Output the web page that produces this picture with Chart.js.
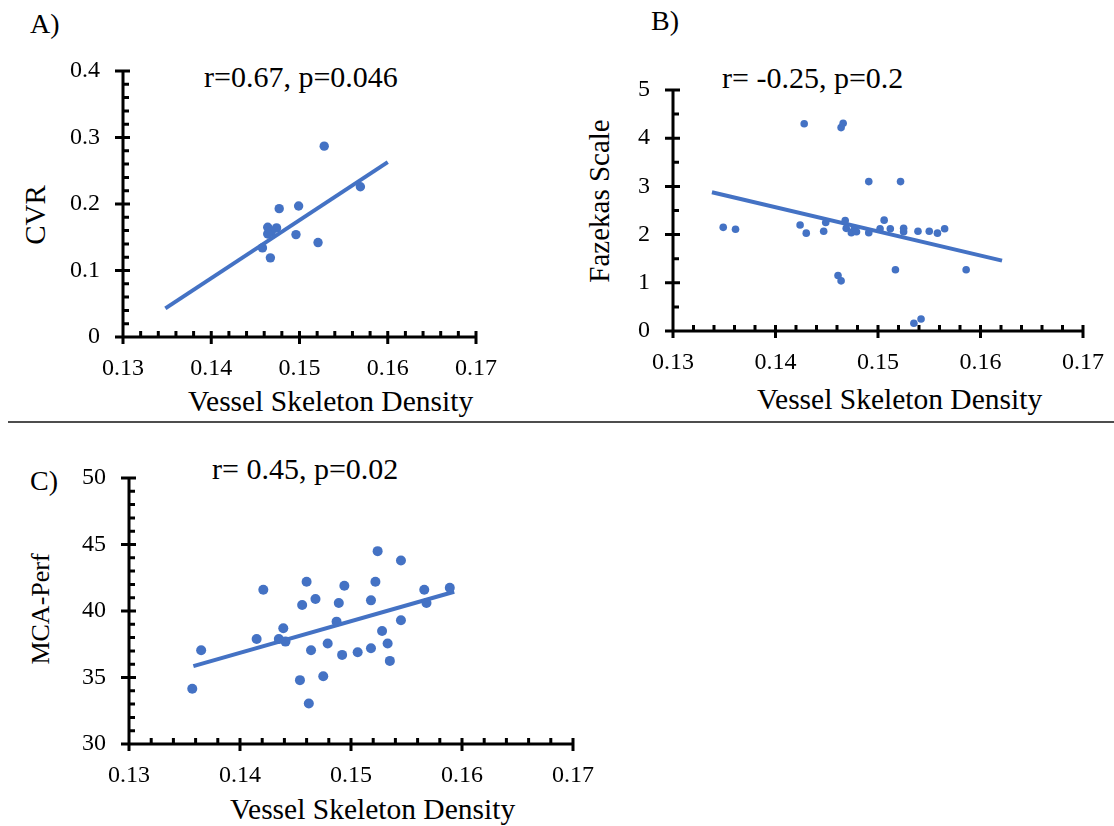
<!DOCTYPE html>
<html>
<head>
<meta charset="utf-8">
<script src="https://cdn.jsdelivr.net/npm/chart.js@4.4.1/dist/chart.umd.min.js"></script>
<style>
  body { margin: 0; background: #fff; width: 1114px; height: 826px; position: relative; overflow: hidden;
         font-family: 'Liberation Serif', 'Times New Roman', serif; color: #000; }
  canvas { position: absolute; }
  .t { position: absolute; white-space: nowrap; line-height: 1; }
  .r { position: absolute; white-space: nowrap; line-height: 1; transform: translate(-50%, -50%) rotate(-90deg); }
  #sep { position: absolute; left: 8px; top: 421px; width: 1106px; height: 2px; background: #4d4d4d; }
</style>
</head>
<body>
<div class="t" style="left:30px;top:10px;font-size:28px">A)</div>
<div class="t" style="left:651px;top:6.5px;font-size:28px">B)</div>
<div class="t" style="left:30px;top:466.5px;font-size:28px">C)</div>

<div class="t" style="left:204px;top:62px;font-size:30px">r=0.67, p=0.046</div>
<div class="t" style="left:722px;top:63px;font-size:30px">r= -0.25, p=0.2</div>
<div class="t" style="left:212px;top:454px;font-size:30px">r= 0.45, p=0.02</div>

<div class="t" style="left:188px;top:387px;font-size:29.5px">Vessel Skeleton Density</div>
<div class="t" style="left:757px;top:385px;font-size:29.5px">Vessel Skeleton Density</div>
<div class="t" style="left:230px;top:795px;font-size:29.5px">Vessel Skeleton Density</div>

<div class="r" style="left:35px;top:215px;font-size:29px">CVR</div>
<div class="r" style="left:599px;top:201px;font-size:29px">Fazekas Scale</div>
<div class="r" style="left:41px;top:609px;font-size:26px">MCA-Perf</div>

<div id="sep"></div>

<script>
// A) CVR vs vessel skeleton density
const cvrX = [0.1528, 0.1569, 0.1477, 0.1499, 0.1464, 0.1474, 0.1468, 0.1464, 0.1496, 0.1521, 0.1458, 0.1467];
const cvrY = [0.287, 0.226, 0.193, 0.197, 0.165, 0.164, 0.158, 0.155, 0.154, 0.142, 0.134, 0.119];
const cvrTrendX = [0.1348, 0.16];
const cvrTrendY = [0.043, 0.263];

// B) Fazekas scale
const fazX = [0.1349, 0.1361, 0.1424, 0.1430, 0.1428, 0.1447, 0.1449, 0.1464, 0.1466, 0.1461, 0.1464,
              0.1468, 0.1469, 0.1474, 0.1477, 0.1479, 0.1491, 0.1491, 0.1502, 0.1506, 0.1512, 0.1517,
              0.1522, 0.1525, 0.1525, 0.1535, 0.1542, 0.1539, 0.1550, 0.1558, 0.1565, 0.1586];
const fazY = [2.15, 2.11, 2.20, 2.03, 4.30, 2.07, 2.25, 4.22, 4.31, 1.15, 1.04,
              2.29, 2.13, 2.04, 2.13, 2.06, 3.10, 2.04, 2.12, 2.30, 2.12, 1.27,
              3.10, 2.13, 2.06, 0.16, 0.25, 2.07, 2.07, 2.03, 2.12, 1.27];
const fazTrendX = [0.1338, 0.1621];
const fazTrendY = [2.88, 1.46];

// C) MCA perfusion
const mcaX = [0.1357, 0.1365, 0.1415, 0.1421, 0.1435, 0.1439, 0.1441, 0.1454, 0.1456, 0.1460, 0.1462,
              0.1464, 0.1468, 0.1475, 0.1479, 0.1487, 0.1489, 0.1492, 0.1494, 0.1506, 0.1518, 0.1518,
              0.1522, 0.1524, 0.1528, 0.1533, 0.1535, 0.1545, 0.1545, 0.1566, 0.1568, 0.1589];
const mcaY = [34.15, 37.05, 37.9, 41.6, 37.9, 38.7, 37.7, 34.8, 40.45, 42.2, 33.05,
              37.05, 40.9, 35.1, 37.55, 39.2, 40.6, 36.7, 41.9, 36.9, 37.2, 40.8,
              42.2, 44.5, 38.5, 37.55, 36.25, 39.3, 43.8, 41.6, 40.6, 41.75];
const mcaTrendX = [0.1358, 0.1593];
const mcaTrendY = [35.85, 41.45];

const xTicks = [0.13, 0.14, 0.15, 0.16, 0.17];

const BLUE = '#4472C4';
const FONT = '"Liberation Serif", serif';
const YW = 60, XH = 50, PT = 20, PR = 40, PB = 5;

Chart.defaults.font.family = FONT;
Chart.defaults.font.size = 24;
Chart.defaults.color = '#000';

const fmt = v => String(Math.round(v * 1000) / 1000);

// excel-like axes: crossing major ticks, inside minor ticks
const excelAxes = {
  id: 'excelAxes',
  beforeDatasetsDraw(chart, args, o) {
    const { ctx, chartArea: a, scales: { x, y } } = chart;
    ctx.save();
    ctx.strokeStyle = '#000';
    ctx.lineWidth = 3;
    ctx.beginPath();
    ctx.moveTo(a.left, a.top); ctx.lineTo(a.left, a.bottom + 7);
    ctx.moveTo(a.left - 7, a.bottom); ctx.lineTo(a.right, a.bottom);

    const n = Math.round((y.max - y.min) / o.yMinor);
    const per = Math.round(o.yMajor / o.yMinor);
    for (let i = 0; i <= n; i++) {
      const py = y.getPixelForValue(y.min + i * o.yMinor);
      if (i % per === 0) { ctx.moveTo(a.left - 8, py); ctx.lineTo(a.left + 7, py); }
      else { ctx.moveTo(a.left, py); ctx.lineTo(a.left + 6, py); }
    }
    const m = Math.round((x.max - x.min) / o.xMinor);
    const perx = Math.round(o.xMajor / o.xMinor);
    for (let i = 0; i <= m; i++) {
      const px = x.getPixelForValue(x.min + i * o.xMinor);
      if (i % perx === 0) { ctx.moveTo(px, a.bottom - 6); ctx.lineTo(px, a.bottom + 7); }
      else { ctx.moveTo(px, a.bottom); ctx.lineTo(px, a.bottom - 6); }
    }
    ctx.stroke();
    ctx.restore();
  }
};

function panel(p) {
  const W = p.r - p.l + YW + PR, H = p.b - p.t + PT + XH + PB;
  const cv = document.createElement('canvas');
  cv.width = W; cv.height = H;
  cv.style.left = (p.l - YW) + 'px';
  cv.style.top = (p.t - PT) + 'px';
  cv.style.width = W + 'px'; cv.style.height = H + 'px';
  document.body.appendChild(cv);

  const tickFont = { family: FONT, size: 24 };

  new Chart(cv, {
    type: 'scatter',
    data: {
      datasets: [
        {
          data: p.xs.map((v, i) => ({ x: v, y: p.ys[i] })),
          backgroundColor: BLUE, borderWidth: 0,
          pointRadius: p.radius, pointHoverRadius: p.radius
        },
        {
          data: p.tx.map((v, i) => ({ x: v, y: p.ty[i] })),
          showLine: true, borderColor: BLUE, borderWidth: 4,
          pointRadius: 0, fill: false
        }
      ]
    },
    options: {
      responsive: false, animation: false, devicePixelRatio: 1,
      layout: { padding: { left: 0, top: PT, right: PR, bottom: PB } },
      plugins: {
        legend: { display: false }, tooltip: { enabled: false },
        excelAxes: { xMinor: 0.002, xMajor: 0.01, yMinor: p.yMinor, yMajor: p.yMajor }
      },
      scales: {
        x: {
          type: 'linear', min: xTicks[0], max: xTicks[xTicks.length - 1],
          grid: { display: false, drawTicks: false }, border: { display: false },
          afterBuildTicks: s => { s.ticks = xTicks.map(v => ({ value: v })); },
          ticks: { padding: 17, color: '#000', font: tickFont,
                   maxRotation: 0, autoSkip: false, callback: fmt },
          afterFit: s => { s.height = XH; s.paddingLeft = 0; s.paddingRight = 0; }
        },
        y: {
          type: 'linear', min: p.yTicks[0], max: p.yTicks[p.yTicks.length - 1],
          grid: { display: false, drawTicks: false }, border: { display: false },
          afterBuildTicks: s => { s.ticks = p.yTicks.map(v => ({ value: v })); },
          ticks: { padding: 23, color: '#000', font: tickFont, callback: fmt },
          afterFit: s => { s.width = YW; s.paddingTop = 0; s.paddingBottom = 0; }
        }
      }
    },
    plugins: [excelAxes]
  });
}

panel({ l: 123, r: 476, t: 71, b: 337, xs: cvrX, ys: cvrY, tx: cvrTrendX, ty: cvrTrendY,
        yTicks: [0, 0.1, 0.2, 0.3, 0.4], yMajor: 0.1, yMinor: 0.02, radius: 4.7 });
panel({ l: 673, r: 1083, t: 90, b: 331, xs: fazX, ys: fazY, tx: fazTrendX, ty: fazTrendY,
        yTicks: [0, 1, 2, 3, 4, 5], yMajor: 1, yMinor: 0.5, radius: 3.8 });
panel({ l: 129, r: 573, t: 478, b: 744, xs: mcaX, ys: mcaY, tx: mcaTrendX, ty: mcaTrendY,
        yTicks: [30, 35, 40, 45, 50], yMajor: 5, yMinor: 1, radius: 5 });
</script>
</body>
</html>
